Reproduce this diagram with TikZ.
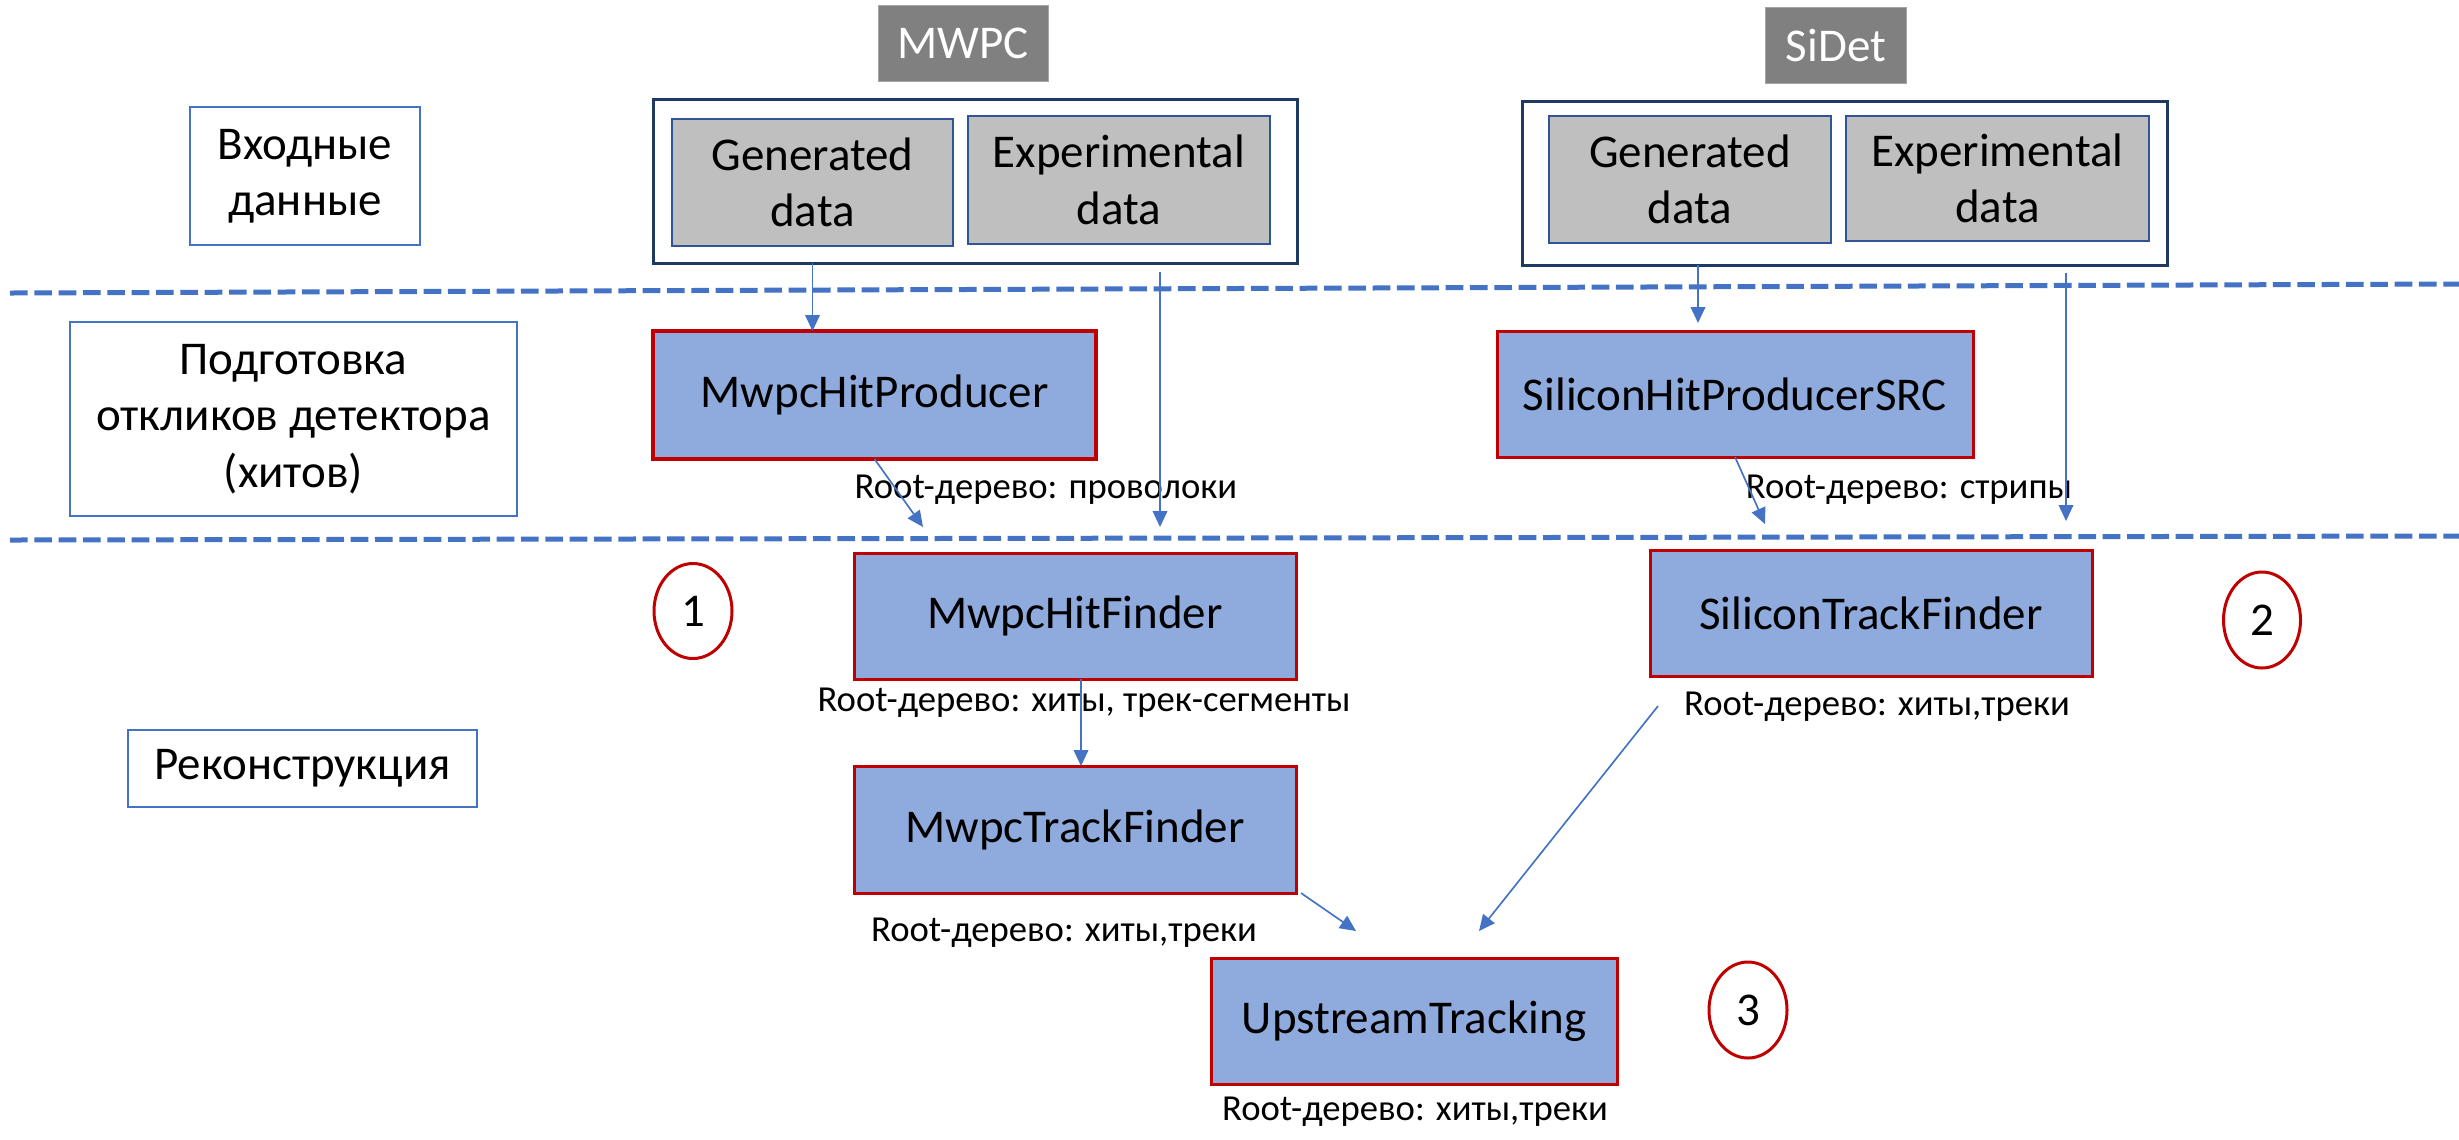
\documentclass[tikz,border=0pt]{standalone}
\usepackage{fontspec}
\setmainfont{Carlito}
\usetikzlibrary{arrows.meta,calc,shapes.geometric}
\definecolor{pblue}{HTML}{8FAADC}
\definecolor{pred}{HTML}{C00000}
\definecolor{lblue}{HTML}{4472C4}
\definecolor{dblue}{HTML}{2F5597}
\definecolor{navy}{HTML}{1F3864}
\definecolor{dgray}{HTML}{808080}
\definecolor{lgray}{HTML}{BFBFBF}
\definecolor{edgegray}{HTML}{A6A6A6}
\begin{document}
\begin{tikzpicture}[x=0.3pt,y=-0.3pt,
  every node/.style={outer sep=0pt, inner sep=0pt, align=center, font=\fontsize{14.1}{16.9}\selectfont},
  sz/.style 2 args={minimum width={#1*0.3pt}, minimum height={#2*0.3pt}},
  proc/.style={rectangle, draw=pred, line width=0.9pt, fill=pblue},
  databox/.style={rectangle, draw=dblue, line width=0.6pt, fill=lgray},
  group/.style={rectangle, draw=navy, line width=0.9pt, fill=white},
  stage/.style={rectangle, draw=lblue, line width=0.45pt, fill=white},
  det/.style={rectangle, fill=dgray, draw=edgegray, line width=0.3pt, text=white},
  num/.style={ellipse, draw=pred, line width=0.9pt, fill=white},
  tree/.style={font=\fontsize{11}{13}\selectfont},
  flow/.style={draw=lblue, line width=0.5pt, -{Triangle[length=4.8pt,width=4.4pt]}},
  sep/.style={draw=lblue, line width=1.5pt, dash pattern=on 5.3pt off 2pt},
]
\useasboundingbox (0,0) rectangle (2459,1139);

% separators
\coordinate (d1a) at (10,293);
\coordinate (d1b) at (2459,284);
\coordinate (d2a) at (10,540);
\coordinate (d2b) at (2459,536);
\draw[sep] (d1a) -- (d1b);
\draw[sep] (d2a) -- (d2b);

% stage labels
\node[stage, sz={230}{138}] (inp) at (305,176) {Входные\\данные};
\node[stage, sz={447}{194}] (prep) at (293.5,419) {Подготовка\\откликов детектора\\(хитов)};
\node[stage, sz={349}{77}] (reco) at (302.5,768.5) {Реконструкция};

% detectors
\node[det, sz={170}{76}] (mwpc) at (963,43) {MWPC};
\node[det, sz={141}{76}] (sidet) at (1836,45) {SiDet};

% input groups
\node[group, sz={644}{164}] (mout) at (975,181) {};
\node[databox, sz={281}{127}] (mgen) at (812.5,182.5) {Generated\\data};
\node[databox, sz={302}{128}] (mexp) at (1119,180) {Experimental\\data};
\node[group, sz={645}{164}] (sout) at (1844.5,183) {};
\node[databox, sz={282}{127}] (sgen) at (1690,179.5) {Generated\\data};
\node[databox, sz={303}{125}] (sexp) at (1997.5,178.5) {Experimental\\data};

% processing
\node[proc, line width=1.3pt, sz={443}{128}] (mhp) at (874.5,395) {MwpcHitProducer};
\node[proc, sz={476}{126}] (shp) at (1735,394) {SiliconHitProducerSRC};
\node[proc, sz={442}{126}] (mhf) at (1075,616) {MwpcHitFinder};
\node[proc, sz={442}{126}] (stf) at (1871,613) {SiliconTrackFinder};
\node[proc, sz={442}{127}] (mtf) at (1075,829.5) {MwpcTrackFinder};
\node[proc, sz={406}{126}] (up) at (1414,1021) {UpstreamTracking};

% numbers
\node[num, sz={78}{95}] (c1) at (693,611) {1};
\node[num, sz={77}{96}] (c2) at (2262,620) {2};
\node[num, sz={78}{96}] (c3) at (1748,1010) {3};

% tree labels
\node[tree] (t1) at (1046,490) {Root-дерево: проволоки};
\node[tree] (t2) at (1909,490) {Root-дерево: стрипы};
\node[tree] (t3) at (1084,703) {Root-дерево: хиты, трек-сегменты};
\node[tree] (t4) at (1877,707) {Root-дерево: хиты,треки};
\node[tree] (t5) at (1064,933) {Root-дерево: хиты,треки};
\node[tree] (t6) at (1415,1112) {Root-дерево: хиты,треки};

% free arrow ends
\coordinate (e1) at (1160,527);
\coordinate (e2) at (2066,521);
\coordinate (e3) at (1698,323);
\coordinate (e4) at (923,527);
\coordinate (e5) at (1765,524);
\coordinate (e6) at (1356,931);
\coordinate (e7) at (1479,931);

% connectors
\draw[flow] (mgen.south |- mout.south) -- (mhp.north -| mgen.south);
\draw[flow, shorten <=2.7pt] (mout.south -| e1) -- (e1);
\draw[flow] (sout.south -| e3) -- (e3);
\draw[flow, shorten <=2.4pt] (sout.south -| e2) -- (e2);
\draw[flow] (mhp.south) -- (e4);
\draw[flow] (shp.south) -- (e5);
\draw[flow] ($(mhf.south)+(6,0)$) -- ($(mtf.north)+(6,0)$);
\draw[flow] ($(mtf.south east)+(5,0)$) -- (e6);
\draw[flow] ($(stf.south west)+(8,30)$) -- (e7);
\end{tikzpicture}
\end{document}
